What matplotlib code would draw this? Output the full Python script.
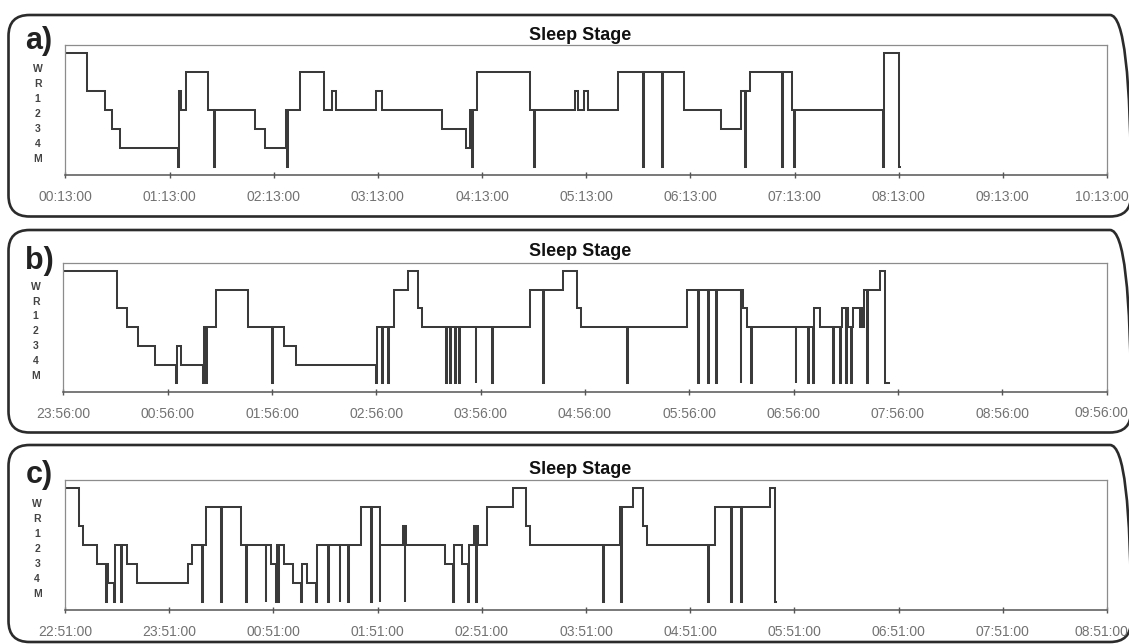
import matplotlib
matplotlib.use('Agg')
import matplotlib.pyplot as plt
from matplotlib.patches import FancyBboxPatch
from matplotlib.transforms import IdentityTransform
import numpy as np

plt.rcParams['font.family'] = ['Liberation Sans', 'DejaVu Sans']

# ---------------- data ----------------
stage_order = ['M', '4', '3', '2', '1', 'R', 'W']          # bottom -> top
ytick_labels = ['W', 'R', '1', '2', '3', '4', 'M']
title_text = 'Sleep Stage'
panel_labels = ['a)', 'b)', 'c)']

# panel a: segment start (minutes after 00:13:00) and stage
a_start = [0, 12.3, 22.6, 26.7, 31.6, 65.1, 65.6, 66.6, 69.5, 82.0, 85.6, 86.2,
           109.3, 114.9, 126.8, 127.9, 128.5, 135.0, 149.0, 153.5, 156.0, 179.2,
           182.3, 216.8, 230.6, 233.2, 234.3, 234.9, 237.1, 267.6, 269.8, 270.3,
           293.3, 295.0, 298.8, 301.2, 318.6, 333.0, 333.5, 343.5, 344.0, 356.6,
           377.9, 388.9, 391.6, 392.1, 394.2, 413.0, 413.5, 418.5, 419.5, 420.0,
           471.0, 471.6, 480.2]
a_stage = ['W', '1', '2', '3', '4', 'M', '1', '2', 'R', '2', 'M', '2',
           '3', '4', '2', 'M', '2', 'R', '2', '1', '2', '1',
           '2', '3', '4', '2', 'M', '2', 'R', '2', 'M', '2',
           '1', '2', '1', '2', 'R', 'M', 'R', 'M', 'R', '2',
           '3', '1', 'M', '1', 'R', 'M', 'R', '2', 'M', '2',
           'M', 'W', 'M']
a_end = 480.6
a_ticklabels = ['00:13:00', '01:13:00', '02:13:00', '03:13:00', '04:13:00', '05:13:00',
                '06:13:00', '07:13:00', '08:13:00', '09:13:00', '10:13:00']

# panel b: minutes after 23:56:00
b_start = [0, 31.1, 36.4, 42.9, 52.7, 64.6, 65.2, 67.7, 80.1, 80.7, 81.8, 82.5,
           87.8, 106.4, 119.8, 120.4, 126.9, 133.8, 179.8, 180.4, 183.5, 184.1,
           186.8, 187.4, 190.2, 198.2, 204.0, 206.3, 220.3, 220.8, 222.6, 223.1,
           225.1, 225.6, 227.5, 228.0, 237.1, 237.6, 246.5, 247.0, 268.4, 275.8,
           276.3, 287.6, 295.2, 297.5, 324.3, 324.8, 358.5, 365.2, 365.7, 370.7,
           371.2, 375.5, 376.0, 389.5, 390.0, 390.7, 393.0, 395.3, 395.8, 421.1,
           421.6, 428.2, 428.7, 431.3, 431.9, 435.2, 442.6, 443.1, 446.5, 447.0,
           447.6, 450.3, 450.8, 451.4, 453.2, 453.7, 454.3, 458.2, 459.0, 459.5,
           460.5, 462.2, 462.7, 469.7, 472.5]
b_stage = ['W', '1', '2', '3', '4', 'M', '3', '4', 'M', '2', 'M', '2',
           'R', '2', 'M', '2', '3', '4', 'M', '2', 'M', '2',
           'M', '2', 'R', 'W', '1', '2', 'M', '2', 'M', '2',
           'M', '2', 'M', '2', 'M', '2', 'M', '2', 'R', 'M',
           'R', 'W', '1', '2', 'M', '2', 'R', 'M', 'R', 'M',
           'R', 'M', 'R', 'M', 'R', '1', '2', 'M', '2', 'M',
           '2', 'M', '2', 'M', '1', '2', 'M', '2', 'M', '2',
           '1', 'M', '1', '2', 'M', '2', '1', '2', '1', '2',
           'R', 'M', 'R', 'W', 'M']
b_end = 475.0
b_ticklabels = ['23:56:00', '00:56:00', '01:56:00', '02:56:00', '03:56:00', '04:56:00',
                '05:56:00', '06:56:00', '07:56:00', '08:56:00', '09:56:00']

# panel c: minutes after 22:51:00
c_start = [0, 8.1, 10.2, 18.2, 23.4, 23.9, 25.0, 28.4, 28.9, 32.0, 32.6, 35.9,
           41.3, 71.0, 73.0, 79.0, 79.5, 81.2, 90.0, 90.5, 101.5, 104.4, 104.9,
           115.5, 116.0, 118.8, 121.3, 121.8, 122.8, 123.3, 126.3, 131.1, 136.0,
           136.5, 139.4, 144.7, 145.2, 151.4, 151.9, 158.1, 158.6, 162.9, 163.4,
           170.4, 176.3, 176.8, 181.1, 181.6, 194.8, 195.5, 196.0, 196.6, 218.8,
           223.6, 224.1, 228.4, 232.2, 232.7, 235.5, 236.6, 237.1, 238.0, 243.1,
           257.7, 265.4, 267.7, 309.7, 310.2, 319.5, 320.4, 320.9, 327.2, 332.6,
           335.0, 370.2, 370.7, 374.2, 383.6, 384.1, 389.4, 389.9, 405.9, 408.7]
c_stage = ['W', '1', '2', '3', 'M', '3', '4', 'M', '2', 'M', '2', '3',
           '4', '3', '2', 'M', '2', 'R', 'M', 'R', '2', 'M', '2',
           'M', '2', '3', 'M', '2', 'M', '2', '3', '4', 'M',
           '3', '4', 'M', '2', 'M', '2', 'M', '2', 'M', '2',
           'R', 'M', 'R', 'M', '2', '1', 'M', '1', '2', '3',
           'M', '2', '3', 'M', '2', '1', 'M', '1', '2', 'R',
           'W', '1', '2', 'M', '2', 'R', 'M', 'R', 'W', '1',
           '2', 'M', '2', 'R', 'M', 'R', 'M', 'R', 'W', 'M']
c_end = 409.2
c_ticklabels = ['22:51:00', '23:51:00', '00:51:00', '01:51:00', '02:51:00', '03:51:00',
                '04:51:00', '05:51:00', '06:51:00', '07:51:00', '08:51:00']

panels = [(a_start, a_stage, a_end, a_ticklabels),
          (b_start, b_stage, b_end, b_ticklabels),
          (c_start, c_stage, c_end, c_ticklabels)]

# ---------------- layout (pixels, top-left origin) ----------------
W, H = 1129, 644
fig = plt.figure(figsize=(W / 100, H / 100), dpi=100)
fig.patch.set_facecolor('white')

axes_px = [(65.4, 1107.0, 45.0, 175.0),
           (63.3, 1106.6, 262.7, 391.7),
           (65.0, 1107.0, 480.0, 610.0)]
frames_px = [(8.5, 1131.0, 15.0, 216.5),
             (8.5, 1131.0, 230.0, 432.5),
             (8.5, 1131.0, 445.0, 642.0)]
title_y_px = [35.5, 251.0, 469.0]
label_y_px = [41.5, 261.5, 475.5]
ylabel_pos = [5.2, 4.41, 3.62, 2.82, 2.03, 1.23, 0.44]

# frames (behind everything)
for (x0, x1, y0, y1) in frames_px:
    fb = FancyBboxPatch((x0, H - y1), x1 - x0, y1 - y0,
                        boxstyle="round,pad=0,rounding_size=21",
                        transform=IdentityTransform(), facecolor='none',
                        edgecolor='#2b2b2b', linewidth=1.9, zorder=-5)
    fig.patches.append(fb)

line_color = '#3a3a3a'
tick_fs = 10
for i, (starts, stages, end, tlabels) in enumerate(panels):
    l, r, t, b = axes_px[i]
    ax = fig.add_axes([l / W, 1 - b / H, (r - l) / W, (b - t) / H], zorder=2)
    ax.set_facecolor('none')
    levels = [stage_order.index(s) for s in stages]
    xs = np.append(np.array(starts, dtype=float), end)
    ys = np.append(np.array(levels, dtype=float), levels[-1])
    ax.step(xs, ys, where='post', color=line_color, linewidth=1.45,
            solid_joinstyle='miter')
    ax.set_xlim(0, 600)
    ax.set_ylim(-0.45, 6.44)
    ax.set_xticks(np.arange(0, 601, 60))
    ax.set_xticklabels(tlabels[:-1] + [''])
    ax.tick_params(axis='x', direction='inout', length=5, width=1.0,
                   color='#555555', labelcolor='#727272', labelsize=tick_fs, pad=8.5)
    # last label nudged so it stays inside the picture
    ax.annotate(tlabels[-1], xy=(600, 0), xycoords=('data', 'axes fraction'),
                xytext=(-4, -10.5), textcoords='offset points', ha='center',
                va='top', fontsize=tick_fs, color='#727272')
    ax.set_yticks(ylabel_pos)
    ax.set_yticklabels(ytick_labels)
    ax.tick_params(axis='y', length=0, labelsize=7.5, labelcolor='#444444', pad=20)
    for lb in ax.get_yticklabels():
        lb.set_fontweight('bold')
        lb.set_horizontalalignment('center')
    for side in ['top', 'left', 'right']:
        ax.spines[side].set_color('#8c8c8c')
        ax.spines[side].set_linewidth(0.9)
    ax.spines['bottom'].set_color('#555555')
    ax.spines['bottom'].set_linewidth(1.1)

    fig.text(580 / W, 1 - title_y_px[i] / H, title_text, ha='center', va='center',
             fontsize=13, fontweight='bold', color='#111111')
    fig.text(39 / W, 1 - label_y_px[i] / H, panel_labels[i], ha='center', va='center',
             fontsize=22, fontweight='bold', color='#222222')

fig.savefig('out.png', dpi=100, facecolor='white')
